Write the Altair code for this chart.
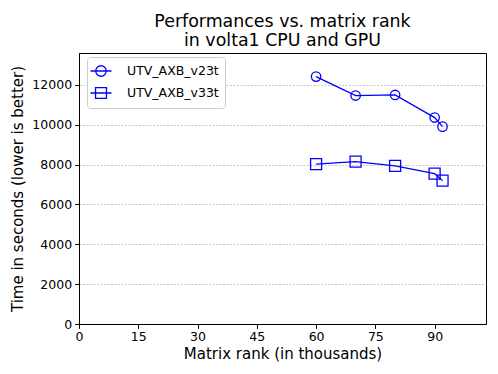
import altair as alt
import pandas as pd

ranks = [60, 70, 80, 90, 92]
v23t = [12415, 11465, 11495, 10360, 9905]
v33t = [8020, 8150, 7935, 7545, 7195]
series_names = ["UTV_AXB_v23t", "UTV_AXB_v33t"]
x_ticks = [0, 15, 30, 45, 60, 75, 90]
y_ticks = [0, 2000, 4000, 6000, 8000, 10000, 12000]

rows = []
for name, vals in zip(series_names, [v23t, v33t]):
    for r, v in zip(ranks, vals):
        rows.append({"rank": r, "time": v, "series": name})
df = pd.DataFrame(rows)

BLUE = "#0000ff"
FONT = "DejaVu Sans"

x_enc = alt.X("rank:Q", scale=alt.Scale(domain=[0, 103], nice=False, zero=False),
              axis=alt.Axis(values=x_ticks, title="Matrix rank (in thousands)", grid=False,
                            format="d", labelFlush=False))
y_enc = alt.Y("time:Q", scale=alt.Scale(domain=[0, 13600], nice=False),
              axis=alt.Axis(values=y_ticks, title="Time in seconds (lower is better)", grid=True,
                            format="d", labelFlush=False))

base = alt.Chart(df)

lines = base.mark_line(color=BLUE, strokeWidth=1.3).encode(
    x=x_enc, y=y_enc, detail="series:N"
)

points = base.mark_point(filled=False, color=BLUE, strokeWidth=1.3, opacity=1).encode(
    x="rank:Q", y="time:Q",
    shape=alt.Shape("series:N", scale=alt.Scale(domain=series_names, range=["circle", "square"]), legend=None),
    size=alt.Size("series:N", scale=alt.Scale(domain=series_names, range=[88, 121]), legend=None),
)

circ_path = "M-1.5,0H1.5M-0.75,0A0.75,0.75,0,1,1,0.75,0A0.75,0.75,0,1,1,-0.75,0Z"
sq_path = "M-1.5,0H1.5M-0.78,-0.78H0.78V0.78H-0.78Z"

legend_layer = base.mark_point(filled=False, color=BLUE, strokeWidth=1.3, opacity=1).encode(
    x="rank:Q", y="time:Q",
    shape=alt.Shape("series:N",
                    scale=alt.Scale(domain=series_names, range=[circ_path, sq_path]),
                    legend=alt.Legend(title=None, orient="none", legendX=8, legendY=4,
                                      symbolSize=196, symbolStrokeColor=BLUE,
                                      symbolFillColor="transparent", symbolStrokeWidth=1.3,
                                      symbolOpacity=1,
                                      labelFontSize=12.5, labelFont=FONT, labelColor="black",
                                      labelOffset=18, padding=6, rowPadding=5,
                                      strokeColor="#cccccc", fillColor="white",
                                      cornerRadius=3)),
).transform_filter("false")

chart = alt.layer(lines, points, legend_layer).resolve_scale(shape="independent").properties(
    width=407, height=271,
    title=alt.TitleParams(["Performances vs. matrix rank", "in volta1 CPU and GPU"],
                          font=FONT, fontSize=17.4, fontWeight="normal", color="black",
                          anchor="middle", lineHeight=19, offset=4),
    autosize=alt.AutoSizeParams(type="none"),
    padding={"left": 71, "top": 45, "right": 4, "bottom": 42},
).configure_view(
    stroke="black", strokeWidth=1
).configure_axis(
    labelFont=FONT, titleFont=FONT, labelFontSize=12.5, titleFontSize=15,
    labelColor="black", titleColor="black", titleFontWeight="normal",
    domainColor="black", tickColor="black", tickSize=4.4, domainWidth=1,
    gridColor="#b0b0b0", gridDash=[2, 1.5], gridWidth=0.7,
).configure_axisX(
    labelPadding=2, titlePadding=4
).configure_axisY(
    titlePadding=6, labelPadding=3
)

chart.save("out.html", embed_options={"renderer": "svg", "actions": False})
